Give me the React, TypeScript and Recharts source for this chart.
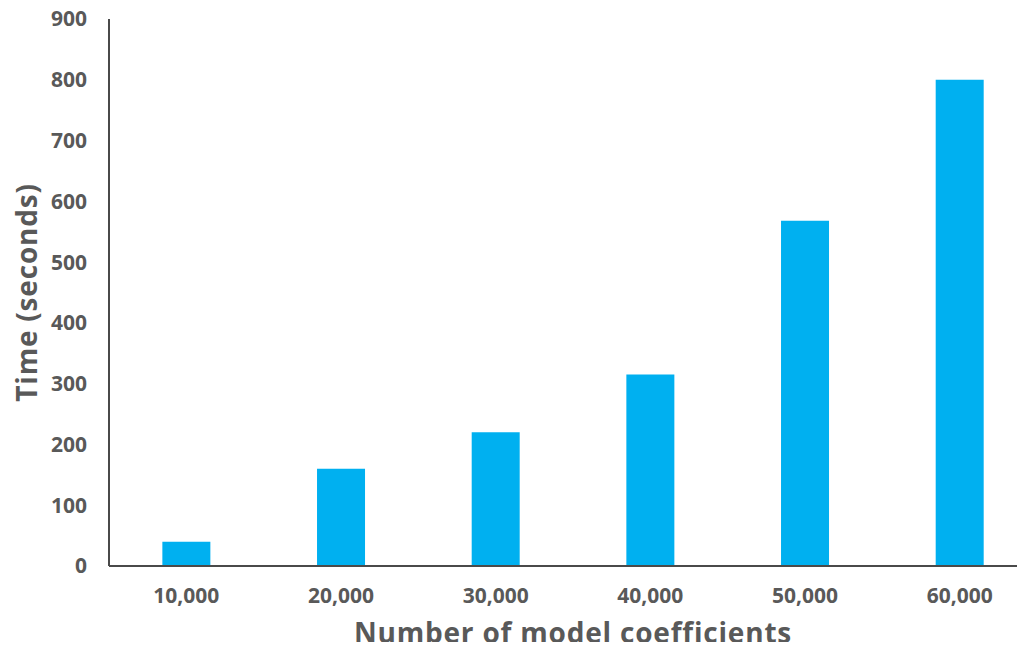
import React from "react";
import { BarChart, Bar, XAxis, YAxis, Label } from "recharts";

// Run time by model size
const coefficientCounts = ["10,000", "20,000", "30,000", "40,000", "50,000", "60,000"];
const timeSeconds = [40, 160, 220, 315, 568, 800];
const yTicks = [0, 100, 200, 300, 400, 500, 600, 700, 800, 900];

const data = coefficientCounts.map((count, i) => ({
  count,
  time: timeSeconds[i],
}));

const FONT = "'Open Sans', 'Noto Sans', sans-serif";
const TEXT = "#595959";
const AXIS = "#4a4a4a";

export default function App() {
  return (
    <div style={{ margin: -8, width: 1025, height: 650, overflow: "hidden", background: "#fff" }}>
      <BarChart
        width={1045}
        height={650}
        data={data}
        margin={{ top: 19, right: 8, bottom: 0, left: 9 }}
        barCategoryGap="34.5%"
      >
        <XAxis
          dataKey="count"
          height={84}
          axisLine={{ stroke: AXIS, strokeWidth: 2 }}
          tickLine={false}
          tickSize={0}
          tickMargin={22}
          tick={{ fill: TEXT, fontSize: 21, fontWeight: 700, fontFamily: FONT }}
        >
          <Label
            value="Number of model coefficients"
            position="insideBottom"
            offset={7}
            fill={TEXT}
            style={{ fontSize: 28, fontWeight: 700, fontFamily: FONT, letterSpacing: 0.8 }}
          />
        </XAxis>
        <YAxis
          width={100}
          domain={[0, 900]}
          ticks={yTicks}
          interval={0}
          axisLine={{ stroke: AXIS, strokeWidth: 2 }}
          tickLine={false}
          tickSize={0}
          tickMargin={22}
          tick={{ fill: TEXT, fontSize: 21, fontWeight: 700, fontFamily: FONT }}
        >
          <Label
            value="Time (seconds)"
            angle={-90}
            position="insideLeft"
            offset={18}
            fill={TEXT}
            style={{ fontSize: 28, fontWeight: 700, fontFamily: FONT, letterSpacing: 0.8, textAnchor: "middle" }}
          />
        </YAxis>
        <Bar dataKey="time" fill="#00B0F0" isAnimationActive={false} />
      </BarChart>
    </div>
  );
}
